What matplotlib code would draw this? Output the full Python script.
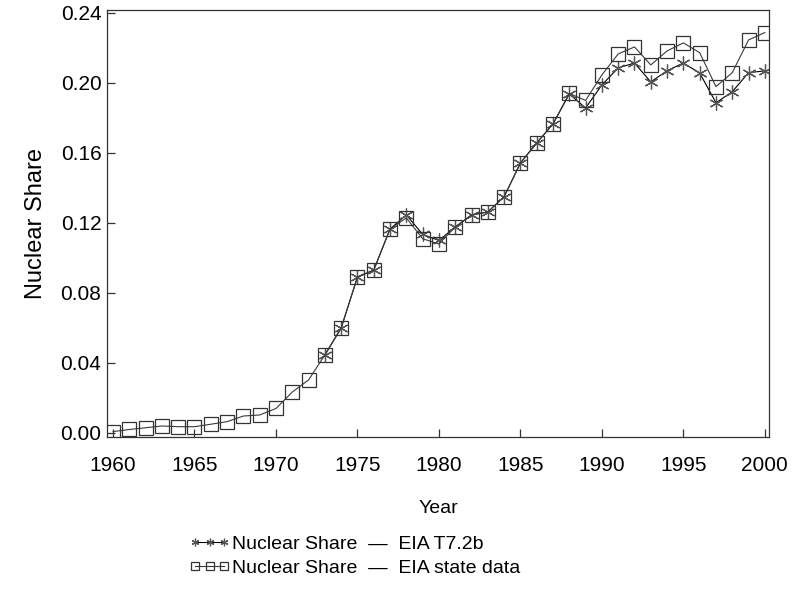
import matplotlib.pyplot as plt
import numpy as np

plt.rcParams['font.family'] = ['Liberation Sans', 'DejaVu Sans']

# EIA table 7.2b (available from 1973 on)
t72b_years = list(range(1973, 2001))
t72b_share = [0.0446, 0.0600, 0.0891, 0.0931, 0.1166, 0.1246, 0.1135, 0.1100,
              0.1177, 0.1246, 0.1263, 0.1350, 0.1543, 0.1657, 0.1766, 0.1937,
              0.1857, 0.1989, 0.2086, 0.2114, 0.2006, 0.2070, 0.2114, 0.2057,
              0.1887, 0.1950, 0.2059, 0.2069]

# EIA state data, 1960-2000
state_years = list(range(1960, 2001))
state_share = [0.0008, 0.0020, 0.0030, 0.0040, 0.0036, 0.0036, 0.0050, 0.0065,
               0.0097, 0.0103, 0.0140, 0.0234, 0.0303, 0.0446, 0.0600, 0.0891,
               0.0931, 0.1166, 0.1229, 0.1110, 0.1080, 0.1177, 0.1246, 0.1263,
               0.1350, 0.1543, 0.1657, 0.1766, 0.1940, 0.1900, 0.2046, 0.2166,
               0.2206, 0.2103, 0.2183, 0.2229, 0.2173, 0.1979, 0.2059, 0.2246,
               0.2288]

fig = plt.figure(figsize=(7.96, 5.98), dpi=100)
ax = fig.add_axes([0.1344, 0.2692, 0.8316, 0.7141])

star = (6, 2, 0)
ax.plot(t72b_years, t72b_share, color='black', lw=0.8,
        marker=star, ms=10, mec='#555555', mew=0.9,
        label='Nuclear Share  \u2014  EIA T7.2b')
ax.plot(state_years, state_share, color='#3a3a3a', lw=0.8,
        marker='s', ms=10, mfc='none', mec='#333333', mew=0.9,
        label='Nuclear Share  \u2014  EIA state data')

ax.set_xlim(1959.63, 2000.25)
ax.set_ylim(-0.0023, 0.2417)
ax.set_xticks(np.arange(1960, 2001, 5))
ax.set_yticks(np.arange(0, 0.25, 0.04))
ax.yaxis.set_major_formatter(plt.FormatStrFormatter('%.2f'))

for s in ax.spines.values():
    s.set_color('#333333')
    s.set_linewidth(0.9)
ax.tick_params(direction='in', length=6, width=0.9, color='#333333',
               labelsize=15)
ax.tick_params(axis='x', pad=14)
ax.tick_params(axis='y', pad=4)

ax.set_xlabel('Year', fontsize=14, labelpad=18)
ax.set_ylabel('Nuclear Share', fontsize=17, labelpad=10)

fig.legend(loc='upper left', bbox_to_anchor=(0.238, 0.105), frameon=False,
           fontsize=14, handlelength=2.1, handletextpad=0.1,
           labelspacing=0.35, borderpad=0, borderaxespad=0,
           numpoints=3, markerscale=0.55)

fig.savefig('out.png', dpi=100)
